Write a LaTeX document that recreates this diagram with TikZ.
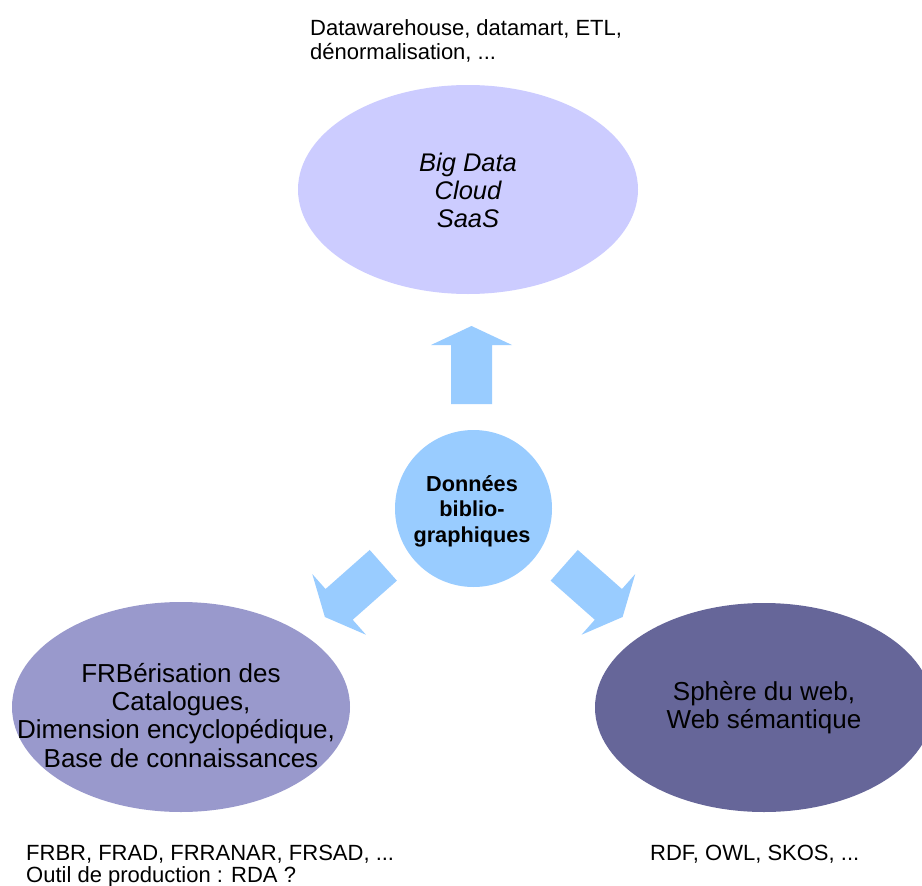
\documentclass[tikz,border=0pt]{standalone}
\usepackage{fontspec}
\setmainfont{Liberation Sans}
\usetikzlibrary{shapes.geometric}
\definecolor{topfill}{HTML}{CCCCFF}
\definecolor{leftfill}{HTML}{9999CC}
\definecolor{rightfill}{HTML}{666699}
\definecolor{hubfill}{HTML}{99CCFF}
\begin{document}
\begin{tikzpicture}[x=1pt,y=-1pt,
  blob/.style={ellipse, inner sep=0pt, draw=none},
  blockarrow/.style={fill=hubfill},
  lbl/.style={inner sep=0pt, anchor=base west, font=\fontsize{22}{24}\selectfont},
  etxt/.style={inner sep=0pt, anchor=base, font=\fontsize{26}{28}\selectfont},
  itxt/.style={inner sep=0pt, anchor=base, font=\fontsize{25.5}{28}\selectfont\itshape},
  htxt/.style={inner sep=0pt, anchor=base, font=\fontsize{21.7}{25}\selectfont\bfseries}]
\useasboundingbox (0,0) rectangle (922,886);
\clip (0,0) rectangle (922,886);
\fill[white] (0,0) rectangle (922,886);
% ellipses and hub
\node[blob, fill=topfill, minimum width=340pt, minimum height=209pt] (top) at (468,189.5) {};
\node[blob, fill=leftfill, minimum width=338pt, minimum height=210pt] (left) at (181,707) {};
\node[blob, fill=rightfill, minimum width=338pt, minimum height=209pt] (right) at (764,707.5) {};
\node[circle, inner sep=0pt, fill=hubfill, minimum size=157pt] (hub) at (473.5,508.5) {};
% block arrows
\begin{scope}[shift={(471.5,404)}, rotate=90]
  \fill[blockarrow] (0,-20.5) -- (59,-20.5) -- (59,-40.5) -- (78,0) -- (59,40.5) -- (59,20.5) -- (0,20.5) -- cycle;
\end{scope}
\begin{scope}[shift={(383.3,565.3)}, rotate=221.5]
  \fill[blockarrow] (0,-20.5) -- (59,-20.5) -- (59,-40.5) -- (78,0) -- (59,40.5) -- (59,20.5) -- (0,20.5) -- cycle;
\end{scope}
\begin{scope}[shift={(564.2,565.3)}, rotate=-41.5]
  \fill[blockarrow] (0,-20.5) -- (59,-20.5) -- (59,-40.5) -- (78,0) -- (59,40.5) -- (59,20.5) -- (0,20.5) -- cycle;
\end{scope}
% hub text
\node[htxt] (h1) at (472,491) {Données};
\node[htxt] (h2) at (472,516.5) {biblio-};
\node[htxt] (h3) at (472,542) {graphiques};
% top ellipse text
\node[itxt] (t1) at (468,171) {Big Data};
\node[itxt] (t2) at (468,199) {Cloud};
\node[itxt] (t3) at (468,227) {SaaS};
% left ellipse text
\node[etxt] (l1) at (181,682) {FRBérisation des};
\node[etxt] (l2) at (181,710) {Catalogues,};
\node[etxt] (l3) at (176,738.5) {Dimension encyclopédique,};
\node[etxt] (l4) at (181,767) {Base de connaissances};
% right ellipse text
\node[etxt] (r1) at (764,700) {Sphère du web,};
\node[etxt] (r2) at (764,728) {Web sémantique};
% outside labels
\node[lbl] (o1) at (310,35) {Datawarehouse, datamart, ETL,};
\node[lbl] (o2) at (310,59) {dénormalisation, ...};
\node[lbl] (o3) at (26,860) {FRBR, FRAD, FRRANAR, FRSAD, ...};
\node[lbl] (o4) at (26,882) {Outil de production : RDA ?};
\node[lbl] (o5) at (650,860) {RDF, OWL, SKOS, ...};
\end{tikzpicture}
\end{document}
